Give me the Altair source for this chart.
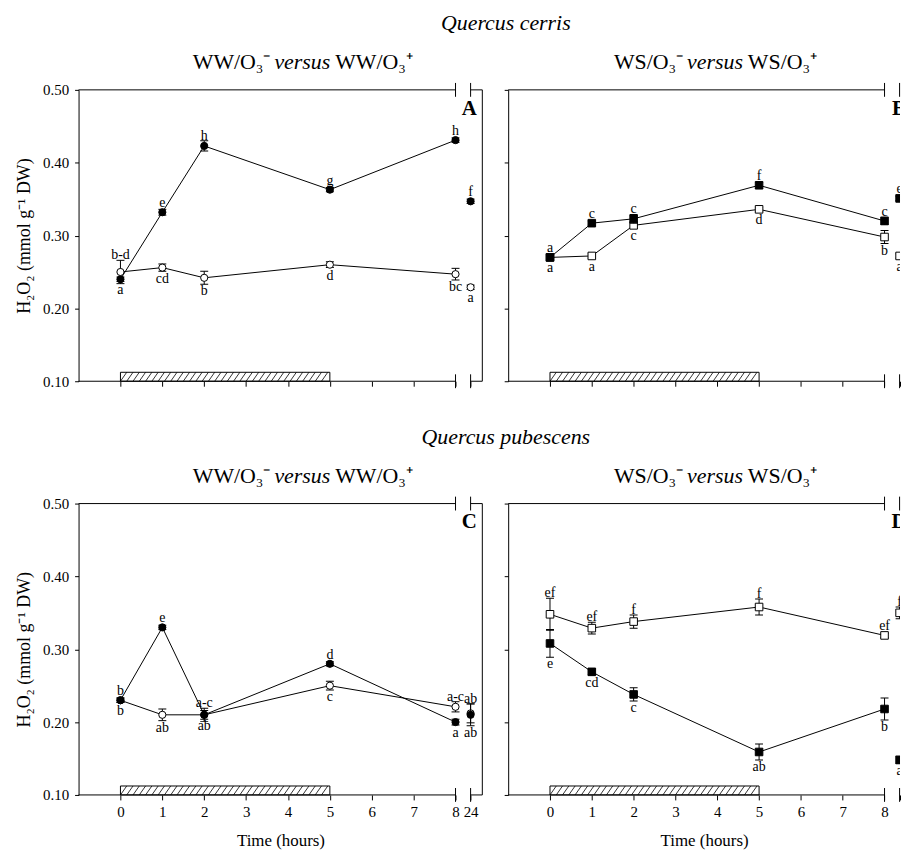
import altair as alt
import pandas as pd

FONT = "Liberation Serif"

# ---------------- data ----------------
TIME = [0, 1, 2, 5, 8, 24]          # hours
X24 = 8.36                           # plotted position of the 24 h point (after the axis break)
EXPOSURE = [0, 5]                    # O3 exposure period (hatched bar)
Y_TICKS = [0.10, 0.20, 0.30, 0.40, 0.50]
X_TICKS = [0, 1, 2, 3, 4, 5, 6, 7, 8]

# Quercus cerris, WW
A_p = [0.240, 0.332, 0.423, 0.363, 0.431, 0.347]
A_p_se = [0.003, 0.004, 0.007, 0.003, 0.003, 0.003]
A_p_lab = ["a", "e", "h", "g", "h", "f"]
A_p_pos = ["below", "above", "above", "above", "above", "above"]
A_m = [0.250, 0.256, 0.242, 0.260, 0.247, 0.229]
A_m_se = [0.016, 0.005, 0.009, 0.004, 0.008, 0.003]
A_m_lab = ["b-d", "cd", "b", "d", "bc", "a"]
A_m_pos = ["above", "below", "below", "below", "below", "below"]

# Quercus cerris, WS
B_p = [0.270, 0.317, 0.323, 0.369, 0.320, 0.351]
B_p_se = [0.003, 0.003, 0.006, 0.004, 0.005, 0.003]
B_p_lab = ["a", "c", "c", "f", "c", "e"]
B_p_pos = ["above"] * 6
B_m = [0.270, 0.272, 0.314, 0.336, 0.298, 0.272]
B_m_se = [0.003, 0.003, 0.004, 0.003, 0.009, 0.003]
B_m_lab = ["a", "a", "c", "d", "b", "a"]
B_m_pos = ["below"] * 6

# Quercus pubescens, WW
C_p = [0.230, 0.330, 0.210, 0.280, 0.200, 0.210]
C_p_se = [0.003, 0.003, 0.009, 0.003, 0.004, 0.015]
C_p_lab = ["b", "e", "a-c", "d", "a", "ab"]
C_p_pos = ["above", "above", "above", "above", "below", "below"]
C_m = [0.230, 0.210, 0.210, 0.250, 0.221, 0.212]
C_m_se = [0.003, 0.008, 0.006, 0.006, 0.007, 0.013]
C_m_lab = ["b", "ab", "ab", "c", "a-c", "ab"]
C_m_pos = ["below", "below", "below", "below", "above", "above"]

# Quercus pubescens, WS
D_p = [0.308, 0.269, 0.238, 0.159, 0.218, 0.148]
D_p_se = [0.019, 0.004, 0.009, 0.011, 0.015, 0.005]
D_p_lab = ["e", "cd", "c", "ab", "b", "a"]
D_p_pos = ["below"] * 6
D_m = [0.348, 0.329, 0.338, 0.358, 0.319, 0.350]
D_m_se = [0.022, 0.008, 0.009, 0.011, 0.003, 0.008]
D_m_lab = ["ef", "ef", "f", "f", "ef", "f"]
D_m_pos = ["above"] * 6

ROW_TITLES = ["Quercus cerris", "Quercus pubescens"]
Y_TITLE = "H\u2082O\u2082 (mmol g\u207b\u00b9 DW)"
X_TITLE = "Time (hours)"

ONE = pd.DataFrame({"k": [0]})


def panel(p, p_se, p_lab, p_pos, m, m_se, m_lab, m_pos, shape, letter,
          t_left, t_right, title_cx, left, bottom, width, xmax, full,
          open_on_top, show24=True):
    df = pd.DataFrame({
        "t": TIME + TIME,
        "v": p + m,
        "se": p_se + m_se,
        "lab": p_lab + m_lab,
        "pos": p_pos + m_pos,
        "trt": ["O3+"] * 6 + ["O3-"] * 6,
    })
    xs = alt.Scale(domain=[-1, xmax], nice=False, zero=False)
    ys = alt.Scale(domain=[0.1, 0.5], nice=False, zero=False)
    clip = not full

    lab24 = "'24'" if show24 else "''"
    xaxis = alt.Axis(
        values=X_TICKS + [X24],
        labelExpr=f"datum.value > 8.1 ? {lab24} : format(datum.value, 'd')",
        labels=bottom, domain=False, grid=False, ticks=True, tickSize=5,
        labelFontSize=15, labelPadding=5, labelFont=FONT,
        title=X_TITLE if bottom else None, titleFontSize=17, titlePadding=13,
        titleFont=FONT, titleFontWeight="normal",
    )
    yaxis = alt.Axis(
        values=Y_TICKS, format=".2f", labels=left, domain=True, grid=False,
        tickSize=4, labelFontSize=15, labelPadding=6, labelFont=FONT,
        title=Y_TITLE if left else None, titleFontSize=18, titlePadding=9,
        titleFont=FONT, titleFontWeight="normal",
    )

    base = alt.Chart(df).transform_calculate(
        xp=f"datum.t > 8 ? {X24} : datum.t",
        lo="datum.v - datum.se",
        hi="datum.v + datum.se",
        ly="datum.pos == 'above' ? datum.v + max(datum.se, 0.0055) : datum.v - max(datum.se, 0.0055)",
    )
    X = alt.X("xp:Q", scale=xs, axis=xaxis)

    def Y(f):
        return alt.Y(f, scale=ys, axis=yaxis)

    layers = []
    # lines (0-8 h only) -- carries the axes
    layers.append(
        base.transform_filter("datum.t <= 8").mark_line(color="black", strokeWidth=1, clip=clip)
        .encode(x=X, y=Y("v:Q"), detail="trt:N")
    )
    # exposure bar (hatched)
    layers.append(
        alt.Chart(ONE).mark_rect(fill="white", stroke="black", strokeWidth=1).encode(
            x=alt.XDatum(EXPOSURE[0], scale=xs, axis=xaxis),
            x2=alt.X2Datum(EXPOSURE[1]),
            y=alt.YDatum(0.1, scale=ys, axis=yaxis),
            y2=alt.Y2Datum(0.1123),
        )
    )
    layers.append(
        alt.Chart(alt.sequence(EXPOSURE[0], EXPOSURE[1] - 0.14, 0.15, as_="h"))
        .transform_calculate(h2="datum.h + 0.15", b="0.1", tp="0.1123")
        .mark_rule(color="black", strokeWidth=0.8)
        .encode(x=alt.X("h:Q", scale=xs, axis=xaxis), x2="h2:Q",
                y=Y("b:Q"), y2="tp:Q")
    )

    def hrule(x1, x2, yv):
        return alt.Chart(ONE).mark_rule(color="black", strokeWidth=1).encode(
            x=alt.XDatum(x1, scale=xs, axis=xaxis), x2=alt.X2Datum(x2),
            y=alt.YDatum(yv, scale=ys, axis=yaxis))

    def vrule(xv, y1, y2):
        return alt.Chart(ONE).mark_rule(color="black", strokeWidth=1).encode(
            x=alt.XDatum(xv, scale=xs, axis=xaxis),
            y=alt.YDatum(y1, scale=ys, axis=yaxis), y2=alt.Y2Datum(y2))

    # frame with axis break
    layers += [hrule(-1, 8, 0.5), hrule(-1, 8, 0.1)]
    for xb in (8, X24):
        layers += [vrule(xb, 0.5 - 0.0095, 0.5 + 0.0095), vrule(xb, 0.1 - 0.0095, 0.1 + 0.0095)]
    if full:
        layers += [hrule(X24, xmax, 0.5), hrule(X24, xmax, 0.1), vrule(xmax, 0.1, 0.5)]

    def series(trt, fill):
        s = base.transform_filter(f"datum.trt == '{trt}'")
        return [
            s.mark_rule(color="black", strokeWidth=1, clip=clip).encode(
                x=X, y=Y("lo:Q"), y2="hi:Q"),
            s.mark_tick(orient="horizontal", size=8, thickness=1, color="black", opacity=1, clip=clip).encode(
                x=X, y=Y("hi:Q")),
            s.mark_tick(orient="horizontal", size=8, thickness=1, color="black", opacity=1, clip=clip).encode(
                x=X, y=Y("lo:Q")),
            s.mark_point(shape=shape, size=52 if shape == "circle" else 58, filled=True,
                         fill=fill, stroke="black", strokeWidth=1, opacity=1, clip=clip).encode(
                x=X, y=Y("v:Q")),
        ]

    if open_on_top:
        layers += series("O3+", "black") + series("O3-", "white")
    else:
        layers += series("O3-", "white") + series("O3+", "black")

    # significance letters
    layers.append(
        base.transform_filter("datum.pos == 'above'").mark_text(
            font=FONT, fontSize=14, baseline="alphabetic", dy=-1, color="black", clip=clip)
        .encode(x=X, y=Y("ly:Q"), text="lab:N")
    )
    layers.append(
        base.transform_filter("datum.pos == 'below'").mark_text(
            font=FONT, fontSize=14, baseline="top", dy=0, color="black", clip=clip)
        .encode(x=X, y=Y("ly:Q"), text="lab:N")
    )

    # panel letter
    layers.append(
        alt.Chart(ONE).mark_text(text=letter, font=FONT, fontSize=21, fontWeight="bold",
                                 align="center", baseline="middle", color="black", clip=clip)
        .encode(x=alt.value(393), y=alt.value(19))
    )
    # panel title with italic "versus"
    layers += [
        alt.Chart(ONE).mark_text(text=t_left, font=FONT, fontSize=22, align="right",
                                 baseline="alphabetic", color="black")
        .encode(x=alt.value(title_cx - 32), y=alt.value(-21)),
        alt.Chart(ONE).mark_text(text="versus", font=FONT, fontSize=22, fontStyle="italic",
                                 align="center", baseline="alphabetic", color="black")
        .encode(x=alt.value(title_cx), y=alt.value(-21)),
        alt.Chart(ONE).mark_text(text=t_right, font=FONT, fontSize=22, align="left",
                                 baseline="alphabetic", color="black")
        .encode(x=alt.value(title_cx + 33), y=alt.value(-21)),
    ]
    return alt.layer(*layers).properties(width=width, height=293)


WW_L, WW_R = "WW/O\u2083\u207b", "WW/O\u2083\u207a"
WS_L, WS_R = "WS/O\u2083\u207b", "WS/O\u2083\u207a"

pA = panel(A_p, A_p_se, A_p_lab, A_p_pos, A_m, A_m_se, A_m_lab, A_m_pos, "circle", "A",
           WW_L, WW_R, 225, True, False, 406, 8.64, True, True)
pB = panel(B_p, B_p_se, B_p_lab, B_p_pos, B_m, B_m_se, B_m_lab, B_m_pos, "square", "B",
           WS_L, WS_R, 208, False, False, 394, 8.37, False, False)
pC = panel(C_p, C_p_se, C_p_lab, C_p_pos, C_m, C_m_se, C_m_lab, C_m_pos, "circle", "C",
           WW_L, WW_R, 225, True, True, 406, 8.64, True, False)
pD = panel(D_p, D_p_se, D_p_lab, D_p_pos, D_m, D_m_se, D_m_lab, D_m_pos, "square", "D",
           WS_L, WS_R, 208, False, True, 394, 8.37, False, False, show24=False)


def row_title(s):
    return alt.TitleParams(s, font=FONT, fontSize=22, fontStyle="italic", fontWeight="normal",
                           anchor="middle", dx=48, offset=16, color="black")


row1 = alt.hconcat(pA, pB, spacing=20, title=row_title(ROW_TITLES[0])).resolve_scale(x="independent", y="independent")
row2 = alt.hconcat(pC, pD, spacing=20, title=row_title(ROW_TITLES[1])).resolve_scale(x="independent", y="independent")

chart = (
    alt.vconcat(row1, row2, spacing=37)
    .resolve_scale(x="independent", y="independent")
    .properties(padding={"left": 15, "top": 10, "right": 0, "bottom": 0}, background="white")
    .configure_view(stroke=None)
    .configure_axis(domainColor="black", tickColor="black", labelColor="black", titleColor="black")
)

chart.save("out.html", embed_options={"renderer": "svg", "actions": False})
